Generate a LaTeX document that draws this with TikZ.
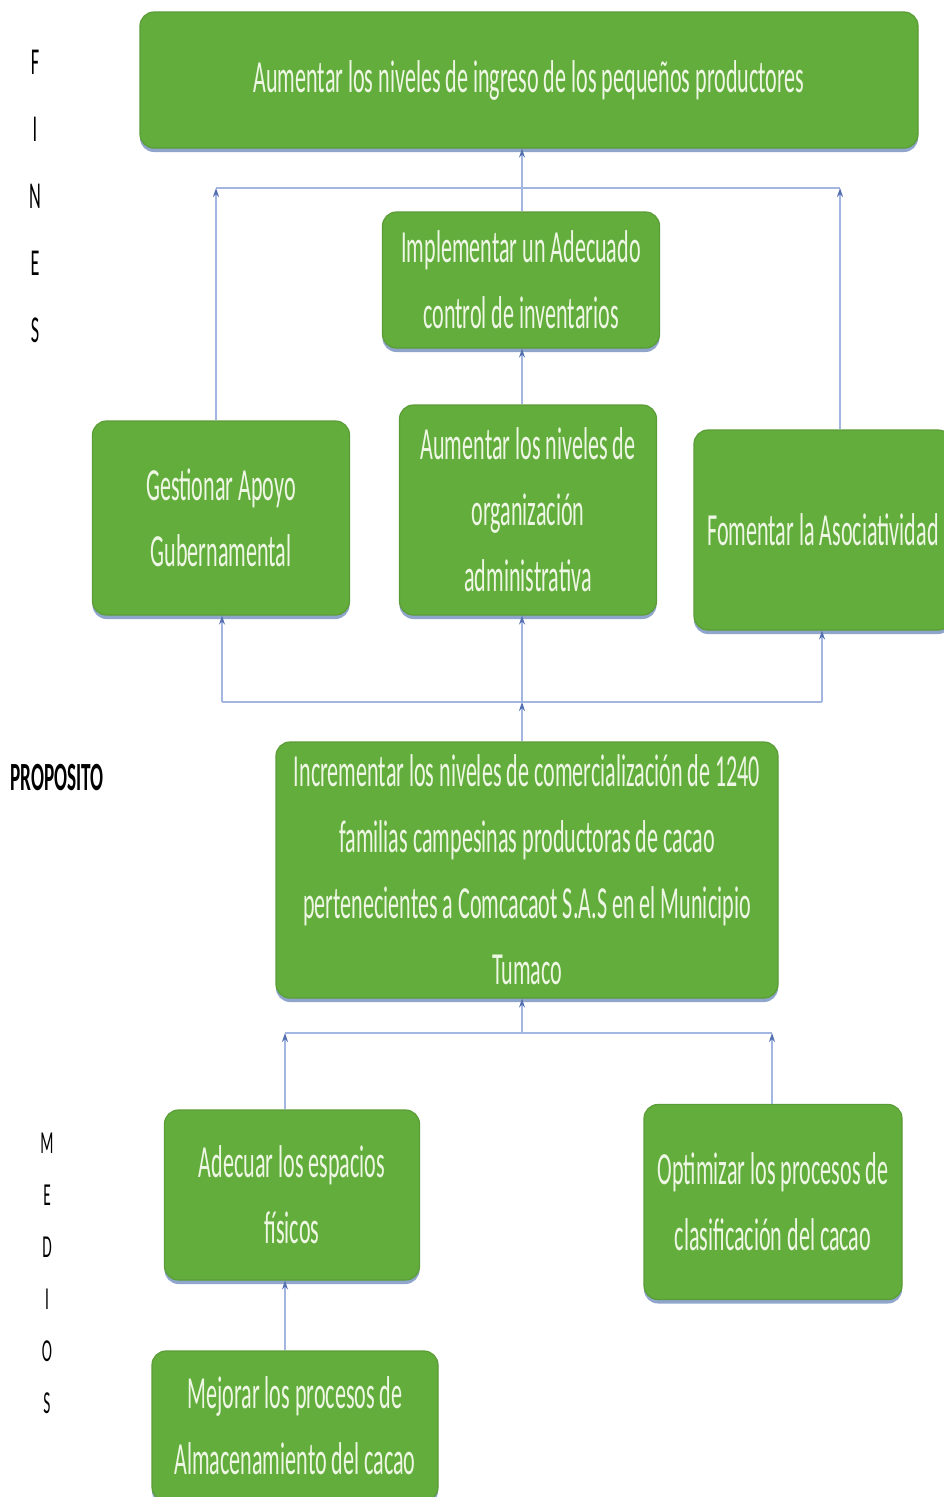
\documentclass[tikz,border=0pt]{standalone}
\usepackage{fontspec}
\setmainfont{Carlito}
\newfontfamily\cf[FakeStretch=0.48]{Carlito}
\usetikzlibrary{arrows.meta,shadows}
\definecolor{boxg}{HTML}{63AD3D}
\definecolor{boxedge}{HTML}{5A9C36}
\definecolor{boxtext}{HTML}{EEF7E4}
\definecolor{shadowc}{HTML}{8FA5CB}
\definecolor{linec}{HTML}{A3B6E2}
\definecolor{arrc}{HTML}{5470B0}
\begin{document}
\begin{tikzpicture}[x=1pt,y=-1pt,
  box/.style={draw=boxedge, line width=1.2pt, fill=boxg, rounded corners=14pt,
    text=boxtext, align=center, inner sep=0pt,
    font=\cf\fontsize{46}{66}\selectfont,
    drop shadow={shadow xshift=0pt, shadow yshift=-4pt, fill=shadowc, opacity=1}},
  con/.style={draw=linec, line width=1.5pt},
  arr/.style={con, -{Stealth[length=9pt,width=6pt,color=arrc,fill=arrc]}},
  side/.style={text=black, align=center, inner sep=0pt}]
\useasboundingbox (0,0) rectangle (944,1497);
\fill[white] (0,0) rectangle (944,1497);

% boxes
\node[box, minimum width=778pt, minimum height=136pt] (top) at (529,80)
  {Aumentar los niveles de ingreso de los pequeños productores};
\node[box, minimum width=277pt, minimum height=136pt] (impl) at (521,280)
  {Implementar un Adecuado\\control de inventarios};
\node[box, minimum width=257pt, minimum height=194pt] (gest) at (221,518)
  {Gestionar Apoyo\\Gubernamental};
\node[box, minimum width=257pt, minimum height=210pt] (aum) at (528,510)
  {Aumentar los niveles de\\organización\\administrativa};
\node[box, minimum width=258pt, minimum height=200pt] (fom) at (823,530)
  {Fomentar la Asociatividad};
\node[box, minimum width=502pt, minimum height=256pt] (prop) at (527,870)
  {Incrementar los niveles de comercialización de 1240\\familias campesinas productoras de cacao\\pertenecientes a Comcacaot S.A.S en el Municipio\\Tumaco};
\node[box, minimum width=255pt, minimum height=170pt] (adec) at (292,1195)
  {Adecuar los espacios\\físicos};
\node[box, minimum width=258pt, minimum height=195pt] (opt) at (773,1202)
  {Optimizar los procesos de\\clasificación del cacao};
\node[box, minimum width=286pt, minimum height=150pt] (mej) at (295,1426)
  {Mejorar los procesos de\\Almacenamiento del cacao};

% side labels
\node[side, font=\cf\fontsize{38}{67}\selectfont] (fines) at (35,196) {F\\I\\N\\E\\S};
\node[side, font=\cf\bfseries\fontsize{40}{44}\selectfont] (proposito) at (57,778) {PROPOSITO};
\node[side, font=\cf\fontsize{32}{52}\selectfont] (medios) at (47,1273) {M\\E\\D\\I\\O\\S};

% coordinates of the buses
\coordinate (tbl) at (216,188);
\coordinate (tbc) at (522,188);
\coordinate (tbr) at (840,188);
\coordinate (mbl) at (222,702);
\coordinate (mbc) at (522,702);
\coordinate (mbr) at (822,702);
\coordinate (bbl) at (285,1033);
\coordinate (bbc) at (522,1033);
\coordinate (bbr) at (772,1033);

% top level
\draw[con] (tbl) -- (tbr);
\draw[arr] (impl.north -| tbc) -- (top.south -| tbc);
\draw[arr] (gest.north -| tbl) -- (tbl);
\draw[arr] (fom.north -| tbr) -- (tbr);
\draw[arr] (aum.north -| tbc) -- (impl.south -| tbc);

% middle level
\draw[con] (mbl) -- (mbr);
\draw[arr] (prop.north -| mbc) -- (mbc);
\draw[arr] (mbl) -- (gest.south -| mbl);
\draw[arr] (mbc) -- (aum.south -| mbc);
\draw[arr] (mbr) -- (fom.south -| mbr);

% bottom level
\draw[con] (bbl) -- (bbr);
\draw[arr] (bbc) -- (prop.south -| bbc);
\draw[arr] (adec.north -| bbl) -- (bbl);
\draw[arr] (opt.north -| bbr) -- (bbr);
\draw[arr] (mej.north -| bbl) -- (adec.south -| bbl);
\end{tikzpicture}
\end{document}
